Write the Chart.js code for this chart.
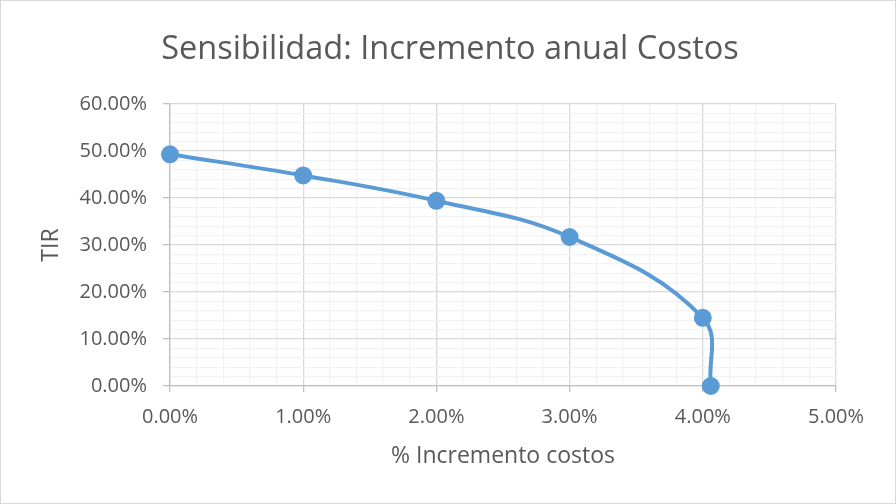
<!DOCTYPE html>
<html>
<head>
<meta charset="utf-8">
<script src="https://cdn.jsdelivr.net/npm/chart.js@4/dist/chart.umd.min.js"></script>
<style>
  html, body { margin: 0; padding: 0; background: #fff; }
  #wrap { width: 896px; height: 504px; box-sizing: border-box; border: 1px solid #d9d9d9; }
</style>
</head>
<body>
<div id="wrap"><canvas id="chart" width="894" height="502"></canvas></div>
<script>
// % incremento anual de costos (x) vs TIR (y), both in percent
const incremento = [0, 1, 2, 3, 4, 4.06];
const tir = [49.3, 44.8, 39.4, 31.7, 14.5, 0];

const textColor = "#595959";
const isMajor = (v) => Math.abs(v - Math.round(v)) < 1e-6;
const isMajorY = (v) => Math.abs(v / 10 - Math.round(v / 10)) < 1e-6;

const points = incremento.map((x, i) => ({ x, y: tir[i] }));

new Chart(document.getElementById("chart"), {
    type: "scatter",
    data: {
        datasets: [{
            data: points,
            showLine: true,
            tension: 0.4,
            clip: false,
            borderColor: "#5B9BD5",
            backgroundColor: "#5B9BD5",
            borderWidth: 4,
            pointRadius: 7,
            pointHoverRadius: 7,
        }]
    },
    options: {
        responsive: false,
        animation: false,
        layout: { padding: { left: 8, right: 4, top: 0, bottom: 29 } },
        plugins: {
            legend: { display: false },
            tooltip: { enabled: false },
            title: {
                display: true,
                text: "Sensibilidad: Incremento anual Costos",
                color: textColor,
                font: { family: "Open Sans", size: 32.5, weight: "normal" },
                padding: { top: 29, bottom: 35 }
            }
        },
        scales: {
            x: {
                type: "linear",
                min: 0,
                max: 5,
                ticks: {
                    stepSize: 0.2,
                    autoSkip: false,
                    maxRotation: 0,
                    color: textColor,
                    font: { family: "Open Sans", size: 20 },
                    padding: 13,
                    callback: (v) => isMajor(v) ? v.toFixed(2) + "%" : ""
                },
                grid: {
                    color: (c) => isMajor(c.tick.value) ? "#d9d9d9" : "#f2f2f2",
                    tickColor: (c) => isMajor(c.tick.value) ? "#bfbfbf" : "rgba(0,0,0,0)",
                    tickLength: 6,
                    lineWidth: 1.3
                },
                border: { color: "#bfbfbf", width: 1.3 },
                afterFit: (scale) => { scale.height = 88; },
                title: {
                    display: true,
                    text: "% Incremento costos",
                    color: textColor,
                    font: { family: "Open Sans", size: 23 },
                    padding: { top: 13, bottom: 4 }
                }
            },
            y: {
                type: "linear",
                min: 0,
                max: 60,
                ticks: {
                    stepSize: 2,
                    autoSkip: false,
                    color: textColor,
                    font: { family: "Open Sans", size: 20 },
                    padding: 16,
                    callback: (v) => isMajorY(v) ? v.toFixed(2) + "%" : ""
                },
                grid: {
                    color: (c) => isMajorY(c.tick.value) ? "#d9d9d9" : "#f2f2f2",
                    tickColor: (c) => isMajorY(c.tick.value) ? "#bfbfbf" : "rgba(0,0,0,0)",
                    tickLength: 7,
                    lineWidth: 1.3
                },
                border: { color: "#bfbfbf", width: 1.3 },
                afterFit: (scale) => { scale.width = 161; },
                title: {
                    display: true,
                    text: "TIR",
                    color: textColor,
                    font: { family: "Open Sans", size: 23 },
                    padding: { top: 29, bottom: 0 }
                }
            },
            // empty right-hand spacer so the title centres like the original
            spacer: {
                type: "linear",
                position: "right",
                min: 0,
                max: 1,
                grid: { display: false },
                border: { display: false },
                ticks: { display: false },
                afterFit: (scale) => { scale.width = 55; }
            }
        }
    }
});
</script>
</body>
</html>
